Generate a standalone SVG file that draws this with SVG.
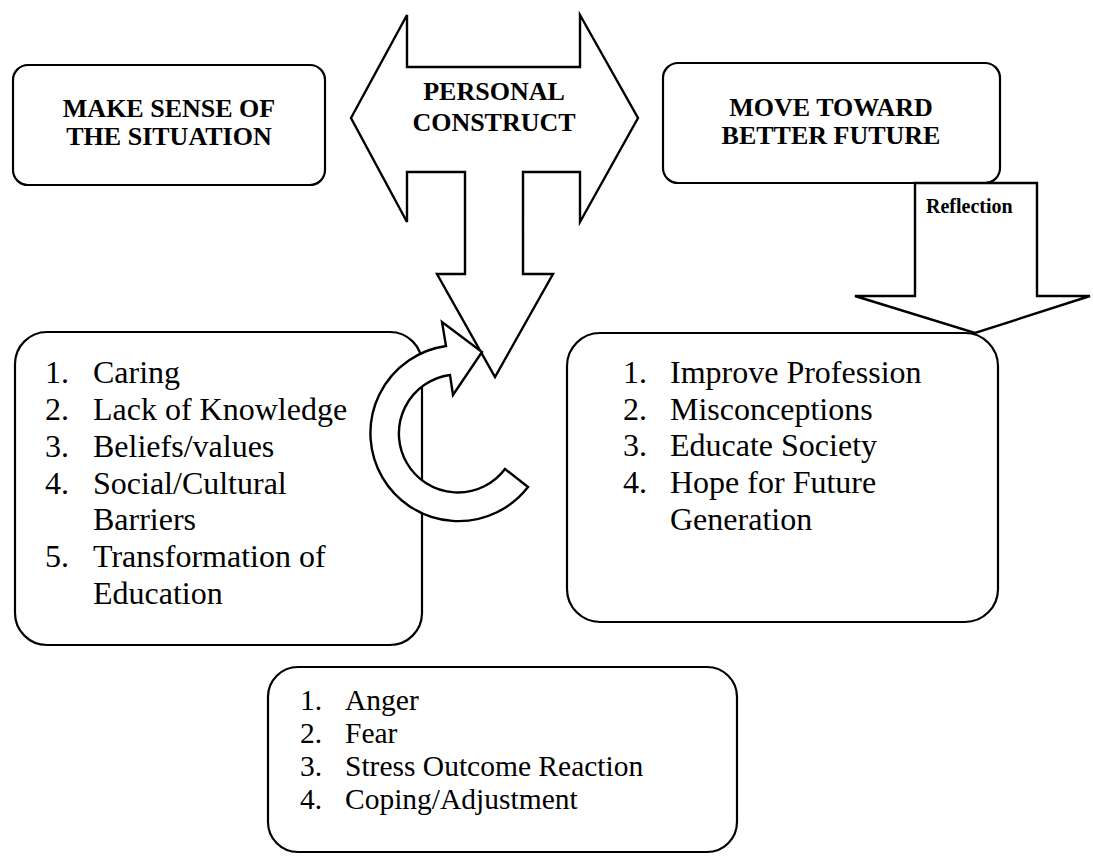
<svg xmlns="http://www.w3.org/2000/svg" width="1093" height="856" viewBox="0 0 1093 856">
<style>
.box{fill:#fff;stroke:#000;stroke-width:2.2}
.shape{fill:#fff;stroke:#000;stroke-width:2.4;stroke-linejoin:miter}
.title{font-family:"Liberation Serif","Times New Roman",serif;font-weight:bold;font-size:26px;fill:#000;text-anchor:middle}
.item{font-family:"Liberation Serif","Times New Roman",serif;font-size:32px;fill:#000}
.item2{font-family:"Liberation Serif","Times New Roman",serif;font-size:29.5px;fill:#000}
.small{font-family:"Liberation Serif","Times New Roman",serif;font-weight:bold;font-size:20px;fill:#000}
</style>
<rect width="1093" height="856" fill="#fff"/>
<g id="make-sense">
<rect class="box" x="13" y="65" width="312" height="120" rx="15"/>
<text class="title" x="169" y="117">MAKE SENSE OF</text>
<text class="title" x="169" y="145">THE SITUATION</text>
</g>
<g id="better-future">
<rect class="box" x="663" y="63" width="337" height="120" rx="15"/>
<text class="title" x="831" y="116">MOVE TOWARD</text>
<text class="title" x="831" y="144">BETTER FUTURE</text>
</g>
<g id="left-list">
<rect class="box" x="15" y="332" width="407" height="313" rx="32"/>
<text class="item" x="45" y="383">1.</text><text class="item" x="93" y="383">Caring</text>
<text class="item" x="45" y="420">2.</text><text class="item" x="93" y="420">Lack of Knowledge</text>
<text class="item" x="45" y="457">3.</text><text class="item" x="93" y="457">Beliefs/values</text>
<text class="item" x="45" y="493.5">4.</text><text class="item" x="93" y="493.5">Social/Cultural</text>
<text class="item" x="93" y="530">Barriers</text>
<text class="item" x="45" y="567">5.</text><text class="item" x="93" y="567">Transformation of</text>
<text class="item" x="93" y="603.5">Education</text>
</g>
<g id="right-list">
<rect class="box" x="567" y="333" width="431" height="289" rx="33"/>
<text class="item" x="623" y="383">1.</text><text class="item" x="670" y="383">Improve Profession</text>
<text class="item" x="623" y="419.5">2.</text><text class="item" x="670" y="419.5">Misconceptions</text>
<text class="item" x="623" y="456">3.</text><text class="item" x="670" y="456">Educate Society</text>
<text class="item" x="623" y="493">4.</text><text class="item" x="670" y="493">Hope for Future</text>
<text class="item" x="670" y="529.5">Generation</text>
</g>
<g id="bottom-list">
<rect class="box" x="268" y="667" width="469" height="185" rx="30"/>
<text class="item2" x="300" y="710">1.</text><text class="item2" x="345" y="710">Anger</text>
<text class="item2" x="300" y="743">2.</text><text class="item2" x="345" y="743">Fear</text>
<text class="item2" x="300" y="776">3.</text><text class="item2" x="345" y="776">Stress Outcome Reaction</text>
<text class="item2" x="300" y="809">4.</text><text class="item2" x="345" y="809">Coping/Adjustment</text>
</g>
<g id="connectors">
<g id="personal-construct">
<polygon class="shape" points="351,118 407,15 407,67 580,67 580,15 638,118 580,222 580,172 523,172 523,274 553,274 495,377 437,274 465,274 465,172 407,172 407,222"/>
<text class="title" x="494" y="100">PERSONAL</text>
<text class="title" x="494" y="131">CONSTRUCT</text>
</g>
<path id="cycle-arrow" class="shape" d="M446,346 A88,88 0 1 0 528,487 L505,469 A59,59 0 1 1 450,375 L453,395 L482,352 L442,322 Z"/>
<g id="reflection">
<polygon class="shape" points="915,183 1037,183 1037,296 1090,296 975,333 855,296 915,296"/>
<text class="small" x="926" y="213">Reflection</text>
</g>
</g>
</svg>
